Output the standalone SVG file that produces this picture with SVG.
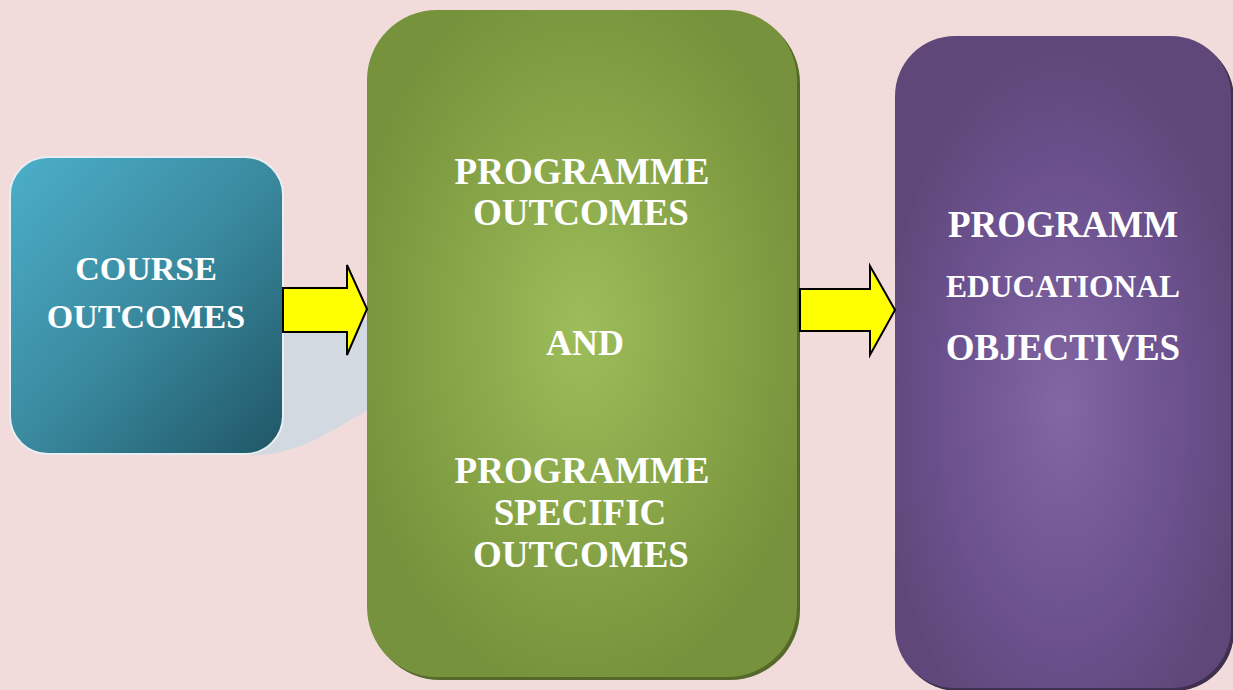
<svg xmlns="http://www.w3.org/2000/svg" width="1233" height="690" viewBox="0 0 1233 690">
<defs>
<linearGradient id="gBlue" x1="0" y1="0" x2="1" y2="1">
<stop offset="0" stop-color="#4cafca"/>
<stop offset="0.5" stop-color="#3a8a9f"/>
<stop offset="1" stop-color="#1f5666"/>
</linearGradient>
<radialGradient id="gGreen" cx="0.5" cy="0.48" r="0.55" fx="0.5" fy="0.48">
<stop offset="0" stop-color="#9dbd5a"/>
<stop offset="0.6" stop-color="#86a346"/>
<stop offset="1" stop-color="#76923c"/>
</radialGradient>
<radialGradient id="gPurple" cx="0.5" cy="0.57" r="0.55" fx="0.5" fy="0.57">
<stop offset="0" stop-color="#8366a4"/>
<stop offset="0.6" stop-color="#6d5290"/>
<stop offset="1" stop-color="#5f4879"/>
</radialGradient>
</defs>
<style>
.lbl{font-family:"Liberation Serif","Times New Roman",serif;font-weight:bold;fill:#ffffff;text-anchor:middle}
.arrow{fill:#ffff00;stroke:#000000;stroke-width:2;stroke-linejoin:miter}
</style>
<rect x="0" y="0" width="1233" height="690" fill="#f2dcdb"/>
<path d="M240,455 L260,455 C305,452 335,428 368,410 L368,320 L240,320 Z" fill="#d3d9e0"/>
<g id="course">
<rect x="10" y="157" width="273" height="297" rx="38" ry="38" fill="url(#gBlue)" stroke="#e8eef2" stroke-width="2"/>
<text class="lbl" x="146" y="280" font-size="34">COURSE</text>
<text class="lbl" x="146" y="328" font-size="34">OUTCOMES</text>
</g>
<g id="po">
<rect x="370" y="13" width="430" height="667" rx="70" ry="70" fill="#56692b"/>
<rect x="367" y="10" width="430" height="667" rx="70" ry="70" fill="url(#gGreen)"/>
<text class="lbl" x="582" y="184" font-size="37">PROGRAMME</text>
<text class="lbl" x="581" y="225" font-size="37">OUTCOMES</text>
<text class="lbl" x="585" y="355" font-size="36">AND</text>
<text class="lbl" x="582" y="483" font-size="37">PROGRAMME</text>
<text class="lbl" x="580" y="525" font-size="37">SPECIFIC</text>
<text class="lbl" x="581" y="567" font-size="37">OUTCOMES</text>
</g>
<g id="peo">
<rect x="898" y="39" width="336" height="652" rx="60" ry="60" fill="#3f3050"/>
<rect x="895" y="36" width="336" height="652" rx="60" ry="60" fill="url(#gPurple)"/>
<text class="lbl" x="1063" y="237" font-size="37">PROGRAMM</text>
<text class="lbl" x="1063" y="297" font-size="31.5">EDUCATIONAL</text>
<text class="lbl" x="1063" y="360" font-size="37">OBJECTIVES</text>
</g>
<g id="connectors">
<path class="arrow" d="M283,288 L347,288 L347,265 L367,309 L347,355 L347,332 L283,332 Z"/>
<path class="arrow" d="M800,289 L870,289 L870,266 L895,310 L870,355 L870,331 L800,331 Z"/>
</g>
</svg>
